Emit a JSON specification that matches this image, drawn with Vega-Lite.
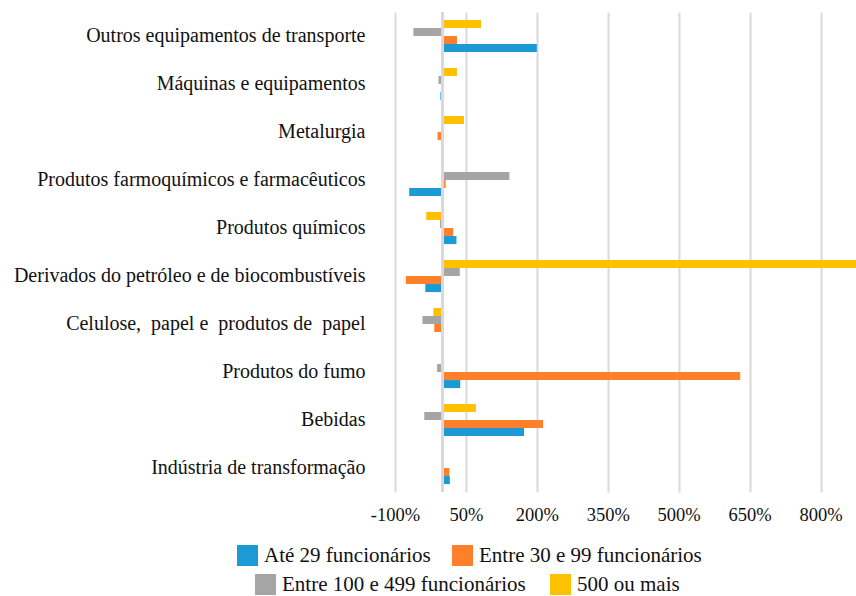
{
  "$schema": "https://vega.github.io/schema/vega-lite/v6.json",
  "width": 461,
  "height": 480,
  "autosize": "none",
  "padding": {"left": 395, "top": 12, "right": 0, "bottom": 104},
  "background": "white",
  "config": {
    "font": "Liberation Serif",
    "view": {"stroke": null}
  },
  "data": {
    "values": [
      {"setor": "Outros equipamentos de transporte", "porte": "500 ou mais", "v": 82},
      {"setor": "Outros equipamentos de transporte", "porte": "Entre 100 e 499 funcionários", "v": -61},
      {"setor": "Outros equipamentos de transporte", "porte": "Entre 30 e 99 funcionários", "v": 31},
      {"setor": "Outros equipamentos de transporte", "porte": "Até 29 funcionários", "v": 200},
      {"setor": "Máquinas e equipamentos", "porte": "500 ou mais", "v": 31},
      {"setor": "Máquinas e equipamentos", "porte": "Entre 100 e 499 funcionários", "v": -8},
      {"setor": "Máquinas e equipamentos", "porte": "Entre 30 e 99 funcionários", "v": 0},
      {"setor": "Máquinas e equipamentos", "porte": "Até 29 funcionários", "v": -4},
      {"setor": "Metalurgia", "porte": "500 ou mais", "v": 46},
      {"setor": "Metalurgia", "porte": "Entre 100 e 499 funcionários", "v": -1},
      {"setor": "Metalurgia", "porte": "Entre 30 e 99 funcionários", "v": -10},
      {"setor": "Metalurgia", "porte": "Até 29 funcionários", "v": 0},
      {"setor": "Produtos farmoquímicos e farmacêuticos", "porte": "500 ou mais", "v": 0},
      {"setor": "Produtos farmoquímicos e farmacêuticos", "porte": "Entre 100 e 499 funcionários", "v": 142},
      {"setor": "Produtos farmoquímicos e farmacêuticos", "porte": "Entre 30 e 99 funcionários", "v": 7},
      {"setor": "Produtos farmoquímicos e farmacêuticos", "porte": "Até 29 funcionários", "v": -70},
      {"setor": "Produtos químicos", "porte": "500 ou mais", "v": -34},
      {"setor": "Produtos químicos", "porte": "Entre 100 e 499 funcionários", "v": -5},
      {"setor": "Produtos químicos", "porte": "Entre 30 e 99 funcionários", "v": 23},
      {"setor": "Produtos químicos", "porte": "Até 29 funcionários", "v": 30},
      {"setor": "Derivados do petróleo e de biocombustíveis", "porte": "500 ou mais", "v": 900},
      {"setor": "Derivados do petróleo e de biocombustíveis", "porte": "Entre 100 e 499 funcionários", "v": 37},
      {"setor": "Derivados do petróleo e de biocombustíveis", "porte": "Entre 30 e 99 funcionários", "v": -77},
      {"setor": "Derivados do petróleo e de biocombustíveis", "porte": "Até 29 funcionários", "v": -36},
      {"setor": "Celulose,\u00a0 papel e\u00a0 produtos de\u00a0 papel\u00a0\u00a0", "porte": "500 ou mais", "v": -19},
      {"setor": "Celulose,\u00a0 papel e\u00a0 produtos de\u00a0 papel\u00a0\u00a0", "porte": "Entre 100 e 499 funcionários", "v": -42},
      {"setor": "Celulose,\u00a0 papel e\u00a0 produtos de\u00a0 papel\u00a0\u00a0", "porte": "Entre 30 e 99 funcionários", "v": -17},
      {"setor": "Celulose,\u00a0 papel e\u00a0 produtos de\u00a0 papel\u00a0\u00a0", "porte": "Até 29 funcionários", "v": 0},
      {"setor": "Produtos do fumo", "porte": "500 ou mais", "v": 0},
      {"setor": "Produtos do fumo", "porte": "Entre 100 e 499 funcionários", "v": -11},
      {"setor": "Produtos do fumo", "porte": "Entre 30 e 99 funcionários", "v": 630},
      {"setor": "Produtos do fumo", "porte": "Até 29 funcionários", "v": 38},
      {"setor": "Bebidas", "porte": "500 ou mais", "v": 71},
      {"setor": "Bebidas", "porte": "Entre 100 e 499 funcionários", "v": -38},
      {"setor": "Bebidas", "porte": "Entre 30 e 99 funcionários", "v": 213},
      {"setor": "Bebidas", "porte": "Até 29 funcionários", "v": 173},
      {"setor": "Indústria de transformação", "porte": "500 ou mais", "v": -1},
      {"setor": "Indústria de transformação", "porte": "Entre 100 e 499 funcionários", "v": 1},
      {"setor": "Indústria de transformação", "porte": "Entre 30 e 99 funcionários", "v": 15},
      {"setor": "Indústria de transformação", "porte": "Até 29 funcionários", "v": 16}
    ]
  },
  "encoding": {
    "y": {
      "field": "setor",
      "type": "nominal",
      "sort": null,
      "scale": {"paddingInner": 0.33, "paddingOuter": 0.165},
      "axis": {
        "title": null,
        "ticks": false,
        "domain": false,
        "labelFontSize": 20,
        "labelColor": "#111111",
        "labelPadding": 30,
        "labelLimit": 400
      }
    },
    "yOffset": {
      "field": "porte",
      "type": "nominal",
      "scale": {
        "domain": ["500 ou mais", "Entre 100 e 499 funcionários", "Entre 30 e 99 funcionários", "Até 29 funcionários"],
        "paddingInner": 0,
        "paddingOuter": 0
      }
    },
    "x": {
      "field": "v",
      "type": "quantitative",
      "scale": {"domain": [-100, 875], "nice": false, "zero": false},
      "axis": {
        "title": null,
        "values": [-100, 50, 200, 350, 500, 650, 800],
        "labelExpr": "datum.value + '%'",
        "labelFontSize": 18.5,
        "labelColor": "#111111",
        "labelPadding": 13,
        "ticks": false,
        "domain": false,
        "grid": true,
        "gridColor": "#D9D9D9",
        "gridWidth": 2,
        "labelFlush": false
      }
    }
  },
  "layer": [
    {
      "transform": [{"filter": {"field": "porte", "oneOf": ["Até 29 funcionários", "Entre 30 e 99 funcionários"]}}],
      "mark": {"type": "bar", "clip": true},
      "encoding": {
        "color": {
          "field": "porte",
          "type": "nominal",
          "scale": {
            "domain": ["Até 29 funcionários", "Entre 30 e 99 funcionários"],
            "range": ["#1B9AD6", "#FF7F2A"]
          },
          "legend": {
            "title": null,
            "orient": "none",
            "legendX": -158,
            "legendY": 533,
            "direction": "horizontal",
            "symbolType": "square",
            "symbolSize": 441,
            "symbolStrokeWidth": 0,
            "labelOffset": 6,
            "labelFontSize": 21,
            "labelColor": "#111111",
            "columnPadding": 21,
            "labelLimit": 400
          }
        }
      }
    },
    {
      "transform": [{"filter": {"field": "porte", "oneOf": ["Entre 100 e 499 funcionários", "500 ou mais"]}}],
      "mark": {"type": "bar", "clip": true},
      "encoding": {
        "fill": {
          "field": "porte",
          "type": "nominal",
          "scale": {
            "domain": ["Entre 100 e 499 funcionários", "500 ou mais"],
            "range": ["#A5A5A5", "#FFC000"]
          },
          "legend": {
            "title": null,
            "orient": "none",
            "legendX": -140,
            "legendY": 562,
            "direction": "horizontal",
            "symbolType": "square",
            "symbolSize": 441,
            "symbolStrokeWidth": 0,
            "labelOffset": 6,
            "labelFontSize": 21,
            "labelColor": "#111111",
            "columnPadding": 24,
            "labelLimit": 400
          }
        }
      }
    },
    {
      "mark": {"type": "rule", "color": "#D9D9D9", "strokeWidth": 2},
      "encoding": {
        "x": {"datum": 0, "type": "quantitative"},
        "y": null,
        "yOffset": null
      }
    }
  ]
}
